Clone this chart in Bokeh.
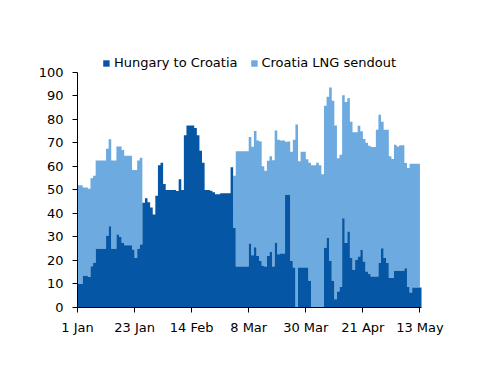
import pandas as pd
from bokeh.plotting import figure
from bokeh.models import ColumnDataSource, Range1d, FixedTicker, Legend, LegendItem
from bokeh.embed import file_html
from bokeh.resources import INLINE

# ---- data (daily, 1 Jan - 13 May) ----
start_date = "2023-01-01"
end_date = "2023-05-13"

hungary_to_croatia = [
    10, 10, 13.5, 13.5, 13, 17.5, 19, 25, 25, 25,
    25, 30.5, 34.5, 25, 25, 31, 30, 27.5, 26.5, 26.5,
    26.5, 24.7, 21, 25, 26.8, 44.5, 46.5, 44.7, 42.5, 39.5,
    47.5, 60.5, 61.5, 52.5, 50, 50, 50, 50, 49.5, 54.5,
    50, 73.2, 77.4, 77.4, 77.4, 76.3, 73.2, 66.6, 61.5, 50,
    50, 49.6, 49, 48.2, 48.2, 48.6, 48.6, 48.6, 48.6, 59.6,
    33.8, 17.4, 17.4, 17.4, 17.4, 17.4, 27.2, 22.2, 25.6, 21.9,
    19.8, 17.7, 17.4, 21.9, 23.6, 17.4, 27.5, 22.6, 23, 23,
    47.9, 47.9, 19.8, 17, 0, 17, 17, 17, 17, 11.4,
    0, 0, 0, 0, 0, 25.4, 29.6, 19.8, 11.4, 3.5,
    6.8, 8.7, 38, 27.4, 32.3, 21, 16, 20.3, 21.7, 24.5,
    19.6, 15.3, 14.2, 13.2, 13.2, 13.2, 18.9, 25.2, 21, 18.9,
    12.5, 12.5, 15.6, 15.6, 15.6, 15.6, 16.7, 8.7, 6.4, 8.5,
    8.5, 8.5, 8.5,
]

croatia_lng_sendout = [
    42, 42, 37.5, 37.5, 37.5, 37.5, 37, 37.5, 37.5, 37.5,
    37.5, 37, 37, 37.5, 37.5, 37.5, 38.5, 39.5, 38, 38,
    38, 33.8, 37.5, 37.5, 36.9, 0, 0, 0, 0, 0,
    0, 0, 0, 0, 0, 0, 0, 0, 0, 0,
    0, 0, 0, 0, 0, 0, 0, 0, 0, 0,
    0, 0, 0, 0, 0, 0, 0, 0, 0, 0,
    22.2, 49, 49, 49, 49, 49, 45.3, 46.1, 49.4, 49.1,
    50.8, 42.4, 40.7, 40.5, 40.7, 45.2, 47.8, 48.7, 48, 48,
    22.6, 22.7, 46.4, 54.3, 77.8, 45.2, 49.2, 49.2, 46, 50.1,
    60.5, 60.5, 61.5, 60.5, 56.7, 60.4, 60, 73.7, 76.5, 73.9,
    56.7, 56.3, 52.2, 60, 56.7, 58, 58.5, 54.2, 55.6, 50.4,
    52, 54.7, 54.6, 55, 55, 62.4, 63.1, 53.8, 54.6, 56.7,
    51.8, 50.6, 53.6, 52.9, 53.4, 53.4, 44.7, 50.6, 54.7, 52.6,
    52.6, 52.6, 0,
]

tick_dates = ["2023-01-01", "2023-01-23", "2023-02-14", "2023-03-08",
              "2023-03-30", "2023-04-21", "2023-05-13"]
tick_labels = ["1 Jan", "23 Jan", "14 Feb", "8 Mar", "30 Mar", "21 Apr", "13 May"]

y_ticks = [0, 10, 20, 30, 40, 50, 60, 70, 80, 90, 100]

series_names = ["Hungary to Croatia", "Croatia LNG sendout"]
series_colors = ["#0656A6", "#6CAADF"]

# ---- build ----
dates = pd.date_range(start_date, end_date, freq="D")
day = list((dates - dates[0]).days)
# step "after": repeat the final value one day further so the last day is drawn
x = day + [day[-1] + 1]
h = hungary_to_croatia + [hungary_to_croatia[-1]]
l = croatia_lng_sendout + [croatia_lng_sendout[-1]]
zero = [0] * len(x)
top = [a + b for a, b in zip(h, l)]

src = ColumnDataSource(dict(x=x, zero=zero, h=h, top=top))

tick_pos = [int((pd.Timestamp(t) - dates[0]).days) for t in tick_dates]

p = figure(width=484, height=370, output_backend="svg", toolbar_location=None,
           x_range=Range1d(0, 132.6), y_range=Range1d(0, 108))
p.min_border_left = 77
p.min_border_right = 63
p.min_border_top = 53
p.min_border_bottom = 63
p.outline_line_color = None
p.xgrid.visible = False
p.ygrid.visible = False
p.background_fill_color = "white"

r_lng = p.varea_step(x="x", y1="h", y2="top", step_mode="after", source=src,
                     fill_color=series_colors[1])
r_hu = p.varea_step(x="x", y1="zero", y2="h", step_mode="after", source=src,
                    fill_color=series_colors[0])

for ax in (p.xaxis[0], p.yaxis[0]):
    ax.axis_line_color = "black"
    ax.axis_line_width = 1
    ax.major_tick_line_color = "black"
    ax.major_tick_in = 0
    ax.major_tick_out = 5
    ax.minor_tick_line_color = None
    ax.major_label_text_font = "DejaVu Sans"
    ax.major_label_text_font_size = "13px"
    ax.major_label_text_color = "black"

p.xaxis.ticker = FixedTicker(ticks=tick_pos)
p.xaxis.major_label_overrides = {tp: lab for tp, lab in zip(tick_pos, tick_labels)}
p.xaxis.major_label_standoff = 7
p.yaxis.ticker = FixedTicker(ticks=y_ticks)
p.yaxis.bounds = (0, 100)
p.yaxis.major_label_standoff = 9

legend = Legend(items=[LegendItem(label=series_names[0], renderers=[r_hu]),
                       LegendItem(label=series_names[1], renderers=[r_lng])],
                orientation="horizontal", location="top_center")
legend.label_text_font = "DejaVu Sans"
legend.label_text_font_size = "13px"
legend.label_text_color = "black"
legend.glyph_width = 8
legend.glyph_height = 8
legend.label_standoff = 4
legend.spacing = 12
legend.padding = 2
legend.margin = 0
legend.label_height = 14
legend.background_fill_alpha = 0
legend.border_line_alpha = 0
p.add_layout(legend)

open("out.html", "w").write(file_html(p, INLINE))
